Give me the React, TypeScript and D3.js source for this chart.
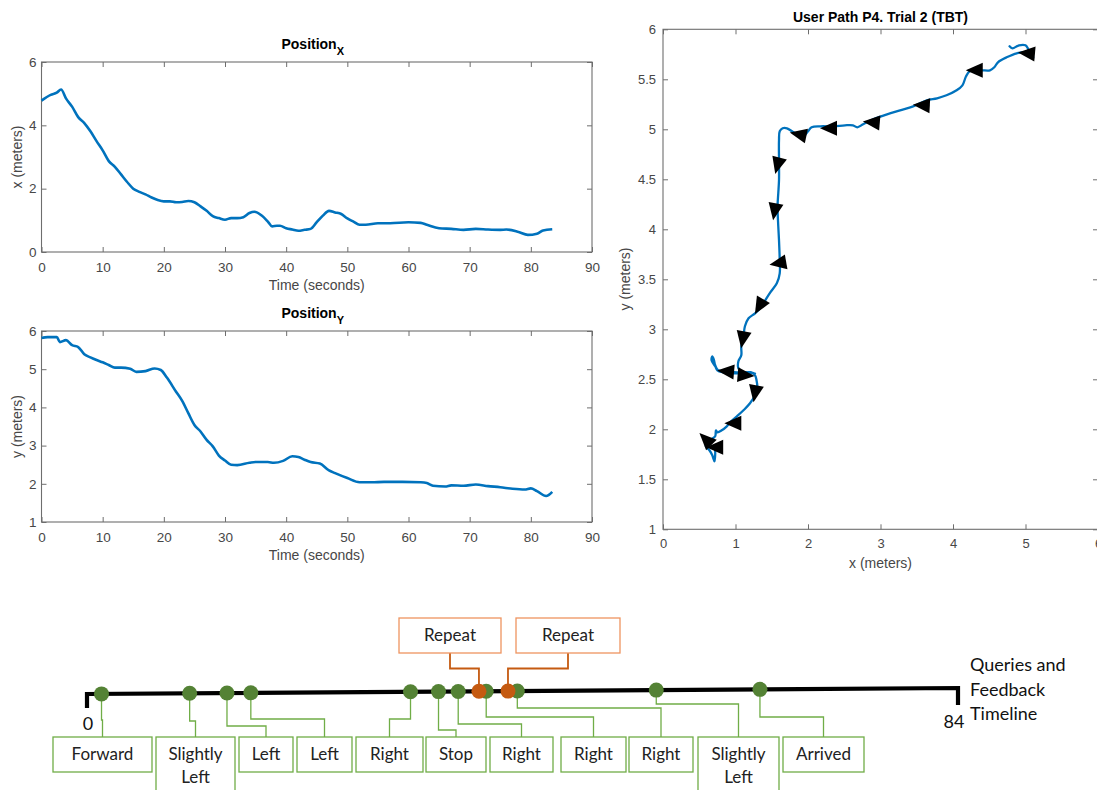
import React, { useEffect, useRef } from 'react'
import * as d3 from 'd3'

const W = 1097
const H = 790

// Position x over time (seconds, meters)
const timeX = [0, 1.5, 2.5, 3.2, 4, 5, 6, 7, 8, 9, 10, 11, 12, 13, 14, 15, 16, 17, 18, 19, 20, 21, 22, 23, 24, 25, 26, 27, 28, 29, 30, 31, 32, 33, 34, 34.8, 36, 37, 37.7, 38.5, 39, 40, 41, 42, 43, 44, 45, 46, 47, 48, 49, 50, 51, 52, 53, 55, 57, 60, 62, 63, 65, 67, 69, 71, 73, 75, 76, 78, 79.5, 81, 82, 83.5]
const posX = [4.78, 4.96, 5.03, 5.13, 4.85, 4.59, 4.26, 4.07, 3.81, 3.5, 3.21, 2.87, 2.69, 2.45, 2.21, 2.0, 1.9, 1.82, 1.72, 1.64, 1.6, 1.6, 1.57, 1.58, 1.61, 1.57, 1.44, 1.3, 1.13, 1.07, 1.02, 1.07, 1.07, 1.1, 1.23, 1.27, 1.15, 0.96, 0.81, 0.83, 0.83, 0.75, 0.71, 0.67, 0.7, 0.73, 0.94, 1.15, 1.3, 1.25, 1.2, 1.06, 0.96, 0.86, 0.86, 0.91, 0.91, 0.94, 0.92, 0.86, 0.75, 0.73, 0.7, 0.73, 0.71, 0.7, 0.71, 0.63, 0.54, 0.58, 0.68, 0.72]

// Position y over time
const timeY = [0, 1, 2.5, 3, 4, 5, 6, 7, 8, 9, 10, 11, 12, 13, 14.5, 15.5, 17, 18.5, 19.5, 20.5, 22, 23, 24, 25, 26, 27, 28, 29, 30, 31, 32, 34, 35, 37, 38, 39.5, 41, 42, 43, 44, 45.5, 47, 48, 50, 52, 54, 56, 59, 62, 63, 64, 66, 67, 69, 71, 73, 75, 77, 79, 80, 81, 82.5, 83.5]
const posY = [5.82, 5.84, 5.84, 5.71, 5.76, 5.63, 5.58, 5.39, 5.31, 5.24, 5.18, 5.11, 5.04, 5.04, 5.01, 4.93, 4.95, 5.02, 4.98, 4.78, 4.41, 4.17, 3.85, 3.54, 3.37, 3.15, 2.98, 2.74, 2.61, 2.5, 2.49, 2.55, 2.57, 2.57, 2.55, 2.6, 2.72, 2.7, 2.63, 2.57, 2.53, 2.35, 2.28, 2.15, 2.04, 2.04, 2.05, 2.05, 2.04, 2.02, 1.95, 1.93, 1.96, 1.95, 1.98, 1.94, 1.91, 1.87, 1.85, 1.88, 1.81, 1.68, 1.79]

// user path (x, y) in meters
const pathX = [4.78, 4.82, 4.91, 5.0, 5.04, 5.11, 5.02, 4.88, 4.74, 4.62, 4.57, 4.51, 4.4, 4.3, 4.23, 4.18, 4.13, 4.05, 3.91, 3.78, 3.64, 3.45, 3.27, 3.09, 2.9, 2.76, 2.68, 2.62, 2.51, 2.35, 2.17, 2.05, 2.0, 1.94, 1.89, 1.8, 1.71, 1.65, 1.61, 1.6, 1.6, 1.6, 1.59, 1.58, 1.59, 1.6, 1.61, 1.61, 1.57, 1.48, 1.41, 1.36, 1.27, 1.18, 1.13, 1.11, 1.08, 1.08, 1.04, 1.04, 1.11, 1.2, 1.27, 1.18, 1.02, 0.88, 0.76, 0.72, 0.7, 0.68, 0.67, 0.72, 0.75, 0.83, 0.97, 1.11, 1.22, 1.27, 1.29, 1.3, 1.27, 1.2, 1.11, 1.02, 0.94, 0.88, 0.81, 0.75, 0.73, 0.72, 0.65, 0.59, 0.64, 0.68, 0.71, 0.72, 0.72]
const pathY = [5.83, 5.81, 5.84, 5.84, 5.8, 5.72, 5.77, 5.76, 5.72, 5.67, 5.62, 5.59, 5.59, 5.59, 5.58, 5.53, 5.44, 5.39, 5.34, 5.31, 5.29, 5.23, 5.19, 5.15, 5.1, 5.05, 5.02, 5.04, 5.04, 5.03, 5.03, 5.02, 4.98, 4.93, 4.94, 4.97, 5.01, 5.01, 4.98, 4.89, 4.69, 4.49, 4.36, 4.23, 4.03, 3.89, 3.69, 3.56, 3.46, 3.37, 3.29, 3.23, 3.16, 3.11, 3.03, 2.93, 2.83, 2.74, 2.68, 2.61, 2.56, 2.56, 2.56, 2.57, 2.57, 2.58, 2.59, 2.64, 2.7, 2.73, 2.69, 2.63, 2.59, 2.57, 2.56, 2.56, 2.57, 2.54, 2.49, 2.43, 2.34, 2.26, 2.19, 2.13, 2.08, 2.03, 1.99, 1.97, 1.99, 1.93, 1.89, 1.83, 1.79, 1.74, 1.68, 1.75, 1.79]

// direction arrows on the path: position and heading (degrees, screen, 0 = right, 90 = down)
const arrowX = [5.02, 4.3, 3.57, 2.88, 2.29, 1.87, 1.58, 1.54, 1.59, 1.33, 1.1, 0.87, 1.14, 1.27, 0.97, 0.59, 0.72]
const arrowY = [5.76, 5.59, 5.24, 5.07, 5.01, 4.95, 4.64, 4.18, 3.66, 3.23, 2.9, 2.58, 2.54, 2.36, 2.06, 1.9, 1.82]
const arrowDir = [185, 180, 183, 185, 180, 192, 105, 100, 170, 120, 100, 185, 5, 100, 180, 225, 180]

const timeTicks = [0, 10, 20, 30, 40, 50, 60, 70, 80, 90]
const xTicks = [0, 2, 4, 6]
const yTicks = [1, 2, 3, 4, 5, 6]
const pathXTicks = [0, 1, 2, 3, 4, 5, 6]
const pathYTicks = [1, 1.5, 2, 2.5, 3, 3.5, 4, 4.5, 5, 5.5, 6]

// timeline (seconds)
const timelineEnd = 84
const feedbackLabels = ['Forward', 'Slightly|Left', 'Left', 'Left', 'Right', 'Stop', 'Right', 'Right', 'Right', 'Slightly|Left', 'Arrived']
const feedbackTimes = [1.4, 9.9, 13.5, 15.8, 31.2, 33.9, 35.8, 38.5, 41.5, 54.9, 64.9]
const queryLabels = ['Repeat', 'Repeat']
const queryTimes = [37.8, 40.6]

// annotation layout (pixels)
const feedbackBoxes = [[53, 152], [156, 235], [239, 293], [297, 352], [356, 423], [426, 486], [490, 553], [561, 626], [629, 693], [698, 779], [783, 864]]
const feedbackElbow = [720, 721, 726, 719, 719, 730, 724, 717, 708, 704, 717]
const queryBoxes = [[399, 501], [516, 620]]

const blue = '#0072BD'
const axisCol = '#6e6e6e'
const textCol = '#474747'
const mFont = '"Liberation Sans", Arial, Helvetica, sans-serif'
const cFont = 'Lato, "Open Sans", sans-serif'

function drawAxes(g, x, y, xt, yt, opts) {
  const [x0, x1] = x.range()
  const [yb, yt0] = y.range()
  const fmt = d3.format('~g')

  const styleAxis = (sel) => {
    sel.select('.domain').remove()
    sel.selectAll('line').attr('stroke', axisCol)
    sel.selectAll('text').attr('fill', textCol).attr('font-size', opts.tickSize).attr('font-family', mFont)
  }

  g.append('g').attr('transform', `translate(0,${yb})`)
    .call(d3.axisBottom(x).tickValues(xt).tickSize(-5).tickPadding(opts.xPad).tickFormat(fmt))
    .call(styleAxis)
  g.append('g').attr('transform', `translate(0,${yt0})`)
    .call(d3.axisTop(x).tickValues(xt).tickSize(-5).tickFormat(() => ''))
    .call(styleAxis)
  g.append('g').attr('transform', `translate(${x0},0)`)
    .call(d3.axisLeft(y).tickValues(yt).tickSize(-5).tickPadding(opts.yPad).tickFormat(fmt))
    .call(styleAxis)
  g.append('g').attr('transform', `translate(${x1},0)`)
    .call(d3.axisRight(y).tickValues(yt).tickSize(-5).tickFormat(() => ''))
    .call(styleAxis)

  g.append('rect')
    .attr('x', x0).attr('y', yt0)
    .attr('width', x1 - x0).attr('height', yb - yt0)
    .attr('fill', 'none').attr('stroke', axisCol).attr('stroke-width', 1.1)
}

function drawTimeChart(svg, times, vals, yDomain, yRange, ticks, titleSub, yLabel) {
  const x = d3.scaleLinear().domain([0, 90]).range([41.5, 592])
  const y = d3.scaleLinear().domain(yDomain).range(yRange)
  const g = svg.append('g')
  drawAxes(g, x, y, timeTicks, ticks, { tickSize: 13.5, xPad: 10, yPad: 5 })

  const line = d3.line().x((d) => x(d[0])).y((d) => y(d[1])).curve(d3.curveMonotoneX)
  g.append('path')
    .datum(d3.zip(times, vals))
    .attr('d', line)
    .attr('fill', 'none')
    .attr('stroke', blue)
    .attr('stroke-width', 2.6)
    .attr('stroke-linejoin', 'round')

  const cx = (x.range()[0] + x.range()[1]) / 2
  const title = g.append('text')
    .attr('x', cx - 4).attr('y', yRange[1] - 13)
    .attr('text-anchor', 'middle')
    .attr('font-family', mFont).attr('font-weight', 'bold').attr('font-size', 14)
    .text('Position')
  title.append('tspan').attr('dy', 6).attr('font-size', 11).text(titleSub)

  g.append('text')
    .attr('x', cx).attr('y', yRange[0] + 38)
    .attr('text-anchor', 'middle')
    .attr('font-family', mFont).attr('font-size', 14).attr('fill', textCol)
    .text('Time (seconds)')

  g.append('text')
    .attr('transform', `translate(22,${(yRange[0] + yRange[1]) / 2}) rotate(-90)`)
    .attr('text-anchor', 'middle')
    .attr('font-family', mFont).attr('font-size', 14).attr('fill', textCol)
    .text(yLabel)
}

function drawPathChart(svg) {
  const x = d3.scaleLinear().domain([0, 6]).range([663, 1098])
  const y = d3.scaleLinear().domain([1, 6]).range([529.3, 29.3])
  const g = svg.append('g')
  drawAxes(g, x, y, pathXTicks, pathYTicks, { tickSize: 13, xPad: 9, yPad: 7 })

  const line = d3.line().x((d) => x(d[0])).y((d) => y(d[1])).curve(d3.curveCatmullRom.alpha(0.5))
  g.append('path')
    .datum(d3.zip(pathX, pathY))
    .attr('d', line)
    .attr('fill', 'none')
    .attr('stroke', blue)
    .attr('stroke-width', 2.3)
    .attr('stroke-linejoin', 'round')
    .attr('stroke-linecap', 'round')

  g.selectAll('path.arrow')
    .data(d3.zip(arrowX, arrowY, arrowDir))
    .enter()
    .append('path')
    .attr('class', 'arrow')
    .attr('d', 'M9,0 L-8,-7.5 L-8,7.5 Z')
    .attr('fill', '#000')
    .attr('transform', (d) => `translate(${x(d[0])},${y(d[1])}) rotate(${d[2]})`)

  g.append('text')
    .attr('x', 880.5).attr('y', 22)
    .attr('text-anchor', 'middle')
    .attr('font-family', mFont).attr('font-weight', 'bold').attr('font-size', 14)
    .text('User Path P4. Trial 2 (TBT)')

  g.append('text')
    .attr('x', 880.5).attr('y', 568)
    .attr('text-anchor', 'middle')
    .attr('font-family', mFont).attr('font-size', 14).attr('fill', textCol)
    .text('x (meters)')

  g.append('text')
    .attr('transform', `translate(630,279) rotate(-90)`)
    .attr('text-anchor', 'middle')
    .attr('font-family', mFont).attr('font-size', 14).attr('fill', textCol)
    .text('y (meters)')
}

function drawTimeline(svg) {
  const t = d3.scaleLinear().domain([0, timelineEnd]).range([87, 958])
  const ly = d3.scaleLinear().domain([0, timelineEnd]).range([694, 688])
  const g = svg.append('g')
  const green = '#548235'
  const greenLine = '#70AD47'
  const orange = '#C55A11'
  const orangeBox = '#EE9460'
  const poly = d3.line()

  // main bar with end ticks
  g.append('path')
    .attr('d', poly([[t(0), 708], [t(0), ly(0)], [t(timelineEnd), ly(timelineEnd)], [t(timelineEnd), 705]]))
    .attr('fill', 'none').attr('stroke', '#000').attr('stroke-width', 4.2)

  g.append('text').attr('x', t(0) + 1).attr('y', 730).attr('text-anchor', 'middle')
    .attr('font-family', cFont).attr('font-size', 18).attr('fill', '#111').text('0')
  g.append('text').attr('x', t(timelineEnd) - 4).attr('y', 728).attr('text-anchor', 'middle')
    .attr('font-family', cFont).attr('font-size', 18).attr('fill', '#111').text(String(timelineEnd))

  const side = g.append('text').attr('x', 970).attr('font-family', cFont).attr('font-size', 18).attr('fill', '#111')
  ;['Queries and', 'Feedback', 'Timeline'].forEach((s, i) => {
    side.append('tspan').attr('x', 970).attr('y', 671 + i * 24.5).text(s)
  })

  // feedback connectors and boxes
  feedbackTimes.forEach((tm, i) => {
    const [b0, b1] = feedbackBoxes[i]
    const bc = (b0 + b1) / 2
    const two = feedbackLabels[i].includes('|')
    g.append('path')
      .attr('d', poly([[t(tm), ly(tm)], [t(tm), feedbackElbow[i]], [bc, feedbackElbow[i]], [bc, 737]]))
      .attr('fill', 'none').attr('stroke', greenLine).attr('stroke-width', 1.3)
    g.append('rect')
      .attr('x', b0).attr('y', 737).attr('width', b1 - b0).attr('height', two ? 70 : 35)
      .attr('fill', '#fff').attr('stroke', greenLine).attr('stroke-width', 1.3)
    const lines = feedbackLabels[i].split('|')
    lines.forEach((s, k) => {
      g.append('text').attr('x', bc).attr('y', 760 + k * 23)
        .attr('text-anchor', 'middle').attr('font-family', cFont).attr('font-size', 17).attr('fill', '#222')
        .text(s)
    })
  })

  // query connectors and boxes
  queryTimes.forEach((tm, i) => {
    const [b0, b1] = queryBoxes[i]
    const bc = (b0 + b1) / 2
    g.append('path')
      .attr('d', poly([[bc, 653], [bc, 668.5], [t(tm), 668.5], [t(tm), ly(tm)]]))
      .attr('fill', 'none').attr('stroke', orange).attr('stroke-width', 1.8)
    g.append('rect')
      .attr('x', b0).attr('y', 618).attr('width', b1 - b0).attr('height', 35)
      .attr('fill', '#fff').attr('stroke', orangeBox).attr('stroke-width', 1.3)
    g.append('text').attr('x', bc).attr('y', 641)
      .attr('text-anchor', 'middle').attr('font-family', cFont).attr('font-size', 17).attr('fill', '#222')
      .text(queryLabels[i])
  })

  g.selectAll('circle.fb')
    .data(feedbackTimes)
    .enter()
    .append('circle')
    .attr('class', 'fb')
    .attr('cx', (d) => t(d)).attr('cy', (d) => ly(d)).attr('r', 7.5)
    .attr('fill', green)

  g.selectAll('circle.q')
    .data(queryTimes)
    .enter()
    .append('circle')
    .attr('class', 'q')
    .attr('cx', (d) => t(d)).attr('cy', (d) => ly(d)).attr('r', 7.5)
    .attr('fill', orange)
}

export default function App() {
  const ref = useRef<SVGSVGElement>(null)

  useEffect(() => {
    const svg = d3.select(ref.current)
    svg.selectAll('*').remove()
    svg.append('rect').attr('width', W).attr('height', H).attr('fill', '#fff')

    drawTimeChart(svg, timeX, posX, [0, 6], [252, 62], xTicks, 'X', 'x (meters)')
    drawTimeChart(svg, timeY, posY, [1, 6], [522, 331], yTicks, 'Y', 'y (meters)')
    drawPathChart(svg)
    drawTimeline(svg)
  }, [])

  return (
    <svg
      ref={ref}
      width={W}
      height={H}
      style={{ position: 'absolute', left: 0, top: 0, display: 'block' }}
    />
  )
}
